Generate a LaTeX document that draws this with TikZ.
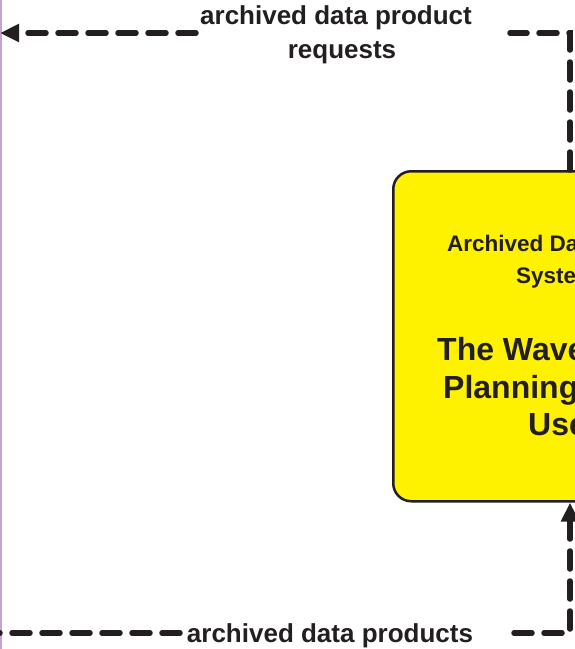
\documentclass[tikz,border=0pt]{standalone}
\usepackage{fontspec}
\setmainfont{Liberation Sans}
\usetikzlibrary{arrows.meta}
\definecolor{ink}{HTML}{231F20}
\definecolor{boxyellow}{HTML}{FFF200}
\definecolor{edgepurple}{HTML}{C8A2D4}
\begin{document}
\begin{tikzpicture}[x=1pt,y=-1pt,
  conn/.style={draw=ink, line width=5.5pt, dash pattern=on 18pt off 12pt, line cap=round},
  tipend/.style={-{Triangle[length=19pt,width=17pt]}},
  lbl/.style={font=\bfseries\fontsize{26}{34}\selectfont, text=ink, inner sep=0pt, align=center},
  smalltxt/.style={font=\bfseries\fontsize{22.5}{32}\selectfont, text=ink, inner sep=0pt, anchor=base west},
  bigtxt/.style={font=\bfseries\fontsize{32}{37}\selectfont, text=ink, inner sep=0pt, anchor=base west},
  boxst/.style={draw=ink, fill=boxyellow, line width=2.5pt, rounded corners=18pt,
    minimum width=330pt, minimum height=330pt, anchor=north west, inner sep=0pt}]
\useasboundingbox (0,0) rectangle (575,649);
\clip (0,0) rectangle (575,649);
\fill[white] (0,0) rectangle (575,649);
\draw[edgepurple, line width=1.5pt] (0.75,0) -- (0.75,649);

% terminator box
\node[boxst] (box) at (392,170) {};
\node[smalltxt] (t1) at (447,251) {Archived Data User};
\node[smalltxt] (t2) at (516,283) {Systems};
\node[bigtxt] (t3) at (437,360) {The Wave};
\node[bigtxt] (t4) at (443,398) {Planning};
\node[bigtxt] (t5) at (528,435) {Users};

% coordinates
\coordinate (topcorner) at (570,33);
\coordinate (topgapR) at (510,33);
\coordinate (topgapL) at (196,33);
\coordinate (topend) at (0,33);
\coordinate (botcorner) at (570,633);
\coordinate (botgapR) at (514,633);
\coordinate (botgapL) at (180,633);
\coordinate (botend) at (0,633);

% archived data product requests (out of the box)
\draw[conn] (box.north west -| topcorner) -- (topcorner) -- (topgapR);
\draw[conn,tipend] (topgapL) -- (topend);
\node[lbl] (reqlbl) at (336,35) {archived data product\\\hspace*{12pt}requests};

% archived data products (into the box)
\draw[conn,tipend] (botgapR) -- (botcorner) -- (box.south west -| botcorner);
\draw[conn] (botgapL) -- (botend);
\node[lbl, anchor=base] (prodlbl) at (330,642) {archived data products};
\end{tikzpicture}
\end{document}
